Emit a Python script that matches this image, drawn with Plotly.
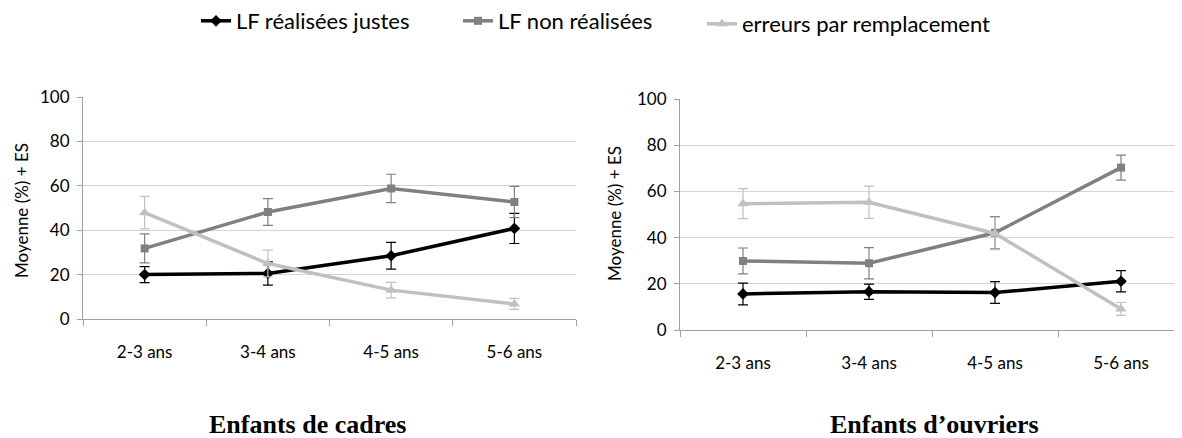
import plotly.graph_objects as go

categories = ["2-3 ans", "3-4 ans", "4-5 ans", "5-6 ans"]
series_names = ["LF réalisées justes", "LF non réalisées", "erreurs par remplacement"]

cadres_justes = [20.0, 20.5, 28.5, 40.8]
cadres_justes_es = [3.6, 5.2, 6.0, 6.8]
cadres_non = [31.8, 48.2, 58.8, 52.7]
cadres_non_es = [6.5, 6.0, 6.4, 7.0]
cadres_remp = [47.9, 25.0, 13.0, 6.8]
cadres_remp_es = [7.3, 6.0, 3.5, 2.5]

ouvriers_justes = [15.6, 16.6, 16.2, 21.1]
ouvriers_justes_es = [4.7, 3.3, 4.7, 4.6]
ouvriers_non = [29.9, 28.9, 42.1, 70.3]
ouvriers_non_es = [5.6, 6.8, 7.0, 5.4]
ouvriers_remp = [54.7, 55.3, 41.8, 9.1]
ouvriers_remp_es = [6.5, 7.0, 7.0, 2.8]

panel_titles = ["Enfants de cadres", "Enfants d\u2019ouvriers"]
y_title = "Moyenne (%) + ES"
y_ticks = [0, 20, 40, 60, 80, 100]

W, H = 1182, 438
OFF = 8  # page body margin


def px(xs):
    return (xs - OFF) / W


def py(ys):
    return 1 - (ys - OFF) / H


colors = ["#000000", "#808080", "#c0c0c0"]
symbols = ["diamond", "square", "triangle-up"]
msizes = [9, 8, 10]
legend_ids = ["legend", "legend2", "legend3"]

fig = go.Figure()

panels = [
    ("x", "y", [cadres_justes, cadres_non, cadres_remp], [cadres_justes_es, cadres_non_es, cadres_remp_es]),
    ("x2", "y2", [ouvriers_justes, ouvriers_non, ouvriers_remp], [ouvriers_justes_es, ouvriers_non_es, ouvriers_remp_es]),
]

for p, (xa, ya, vals, errs) in enumerate(panels):
    for i in range(3):
        fig.add_trace(go.Scatter(
            x=categories, y=vals[i], xaxis=xa, yaxis=ya,
            mode="lines+markers", name=series_names[i],
            showlegend=(p == 0), legend=legend_ids[i],
            line=dict(color=colors[i], width=3.5),
            marker=dict(symbol=symbols[i], size=msizes[i], color=colors[i]),
            error_y=dict(type="data", array=errs[i], symmetric=True,
                         color=colors[i], thickness=1.2, width=5),
        ))

tick_font = dict(family="Lato, Open Sans, sans-serif", size=17, color="#000000")
axis_common_x = dict(type="category", range=[-0.5, 3.5], showline=True, linecolor="#a0a0a0",
                     linewidth=1, ticks="outside", tickson="boundaries", ticklen=6,
                     tickcolor="#a0a0a0", showgrid=False, tickfont=tick_font,
                     ticklabelstandoff=18, fixedrange=True, automargin=False)
axis_common_y = dict(range=[0, 100], tickvals=y_ticks, showline=True, linecolor="#a0a0a0",
                     linewidth=1, ticks="outside", ticklen=5, tickcolor="#a0a0a0",
                     showgrid=True, gridcolor="#d4d4d4", gridwidth=1, zeroline=False,
                     tickfont=tick_font, ticklabelstandoff=4, fixedrange=True, automargin=False)

legend_font = dict(family="Lato, Open Sans, sans-serif", size=22, color="#000000")
legend_common = dict(orientation="h", xanchor="left", yanchor="middle",
                     font=legend_font, bgcolor="rgba(0,0,0,0)", borderwidth=0)

fig.update_layout(
    width=W, height=H,
    margin=dict(l=0, r=0, t=0, b=0, autoexpand=False),
    paper_bgcolor="white", plot_bgcolor="white",
    xaxis=dict(domain=[px(83), px(576)], anchor="y", **axis_common_x),
    yaxis=dict(domain=[py(319), py(97)], anchor="x", **axis_common_y),
    xaxis2=dict(domain=[px(680), px(1184)], anchor="y2", **axis_common_x),
    yaxis2=dict(domain=[py(330), py(99)], anchor="x2", **axis_common_y),
    legend=dict(x=px(196), y=py(21), **legend_common),
    legend2=dict(x=px(458), y=py(21), **legend_common),
    legend3=dict(x=px(702), y=py(24), **legend_common),
    showlegend=True,
)

axis_title_font = dict(family="Lato, Open Sans, sans-serif", size=17, color="#000000")
title_font = dict(family="Liberation Serif, Times New Roman, serif", size=26, color="#000000")
annotations = [
    dict(text=y_title, x=px(21), y=py(211), xref="paper", yref="paper", textangle=-90,
         showarrow=False, xanchor="center", yanchor="middle", font=axis_title_font),
    dict(text=y_title, x=px(614), y=py(214), xref="paper", yref="paper", textangle=-90,
         showarrow=False, xanchor="center", yanchor="middle", font=axis_title_font),
    dict(text="<b>" + panel_titles[0] + "</b>", x=px(307), y=py(424), xref="paper", yref="paper",
         showarrow=False, xanchor="center", yanchor="middle", font=title_font),
    dict(text="<b>" + panel_titles[1] + "</b>", x=px(934), y=py(424), xref="paper", yref="paper",
         showarrow=False, xanchor="center", yanchor="middle", font=title_font),
]
fig.update_layout(annotations=annotations)

fig.write_html("out.html")
